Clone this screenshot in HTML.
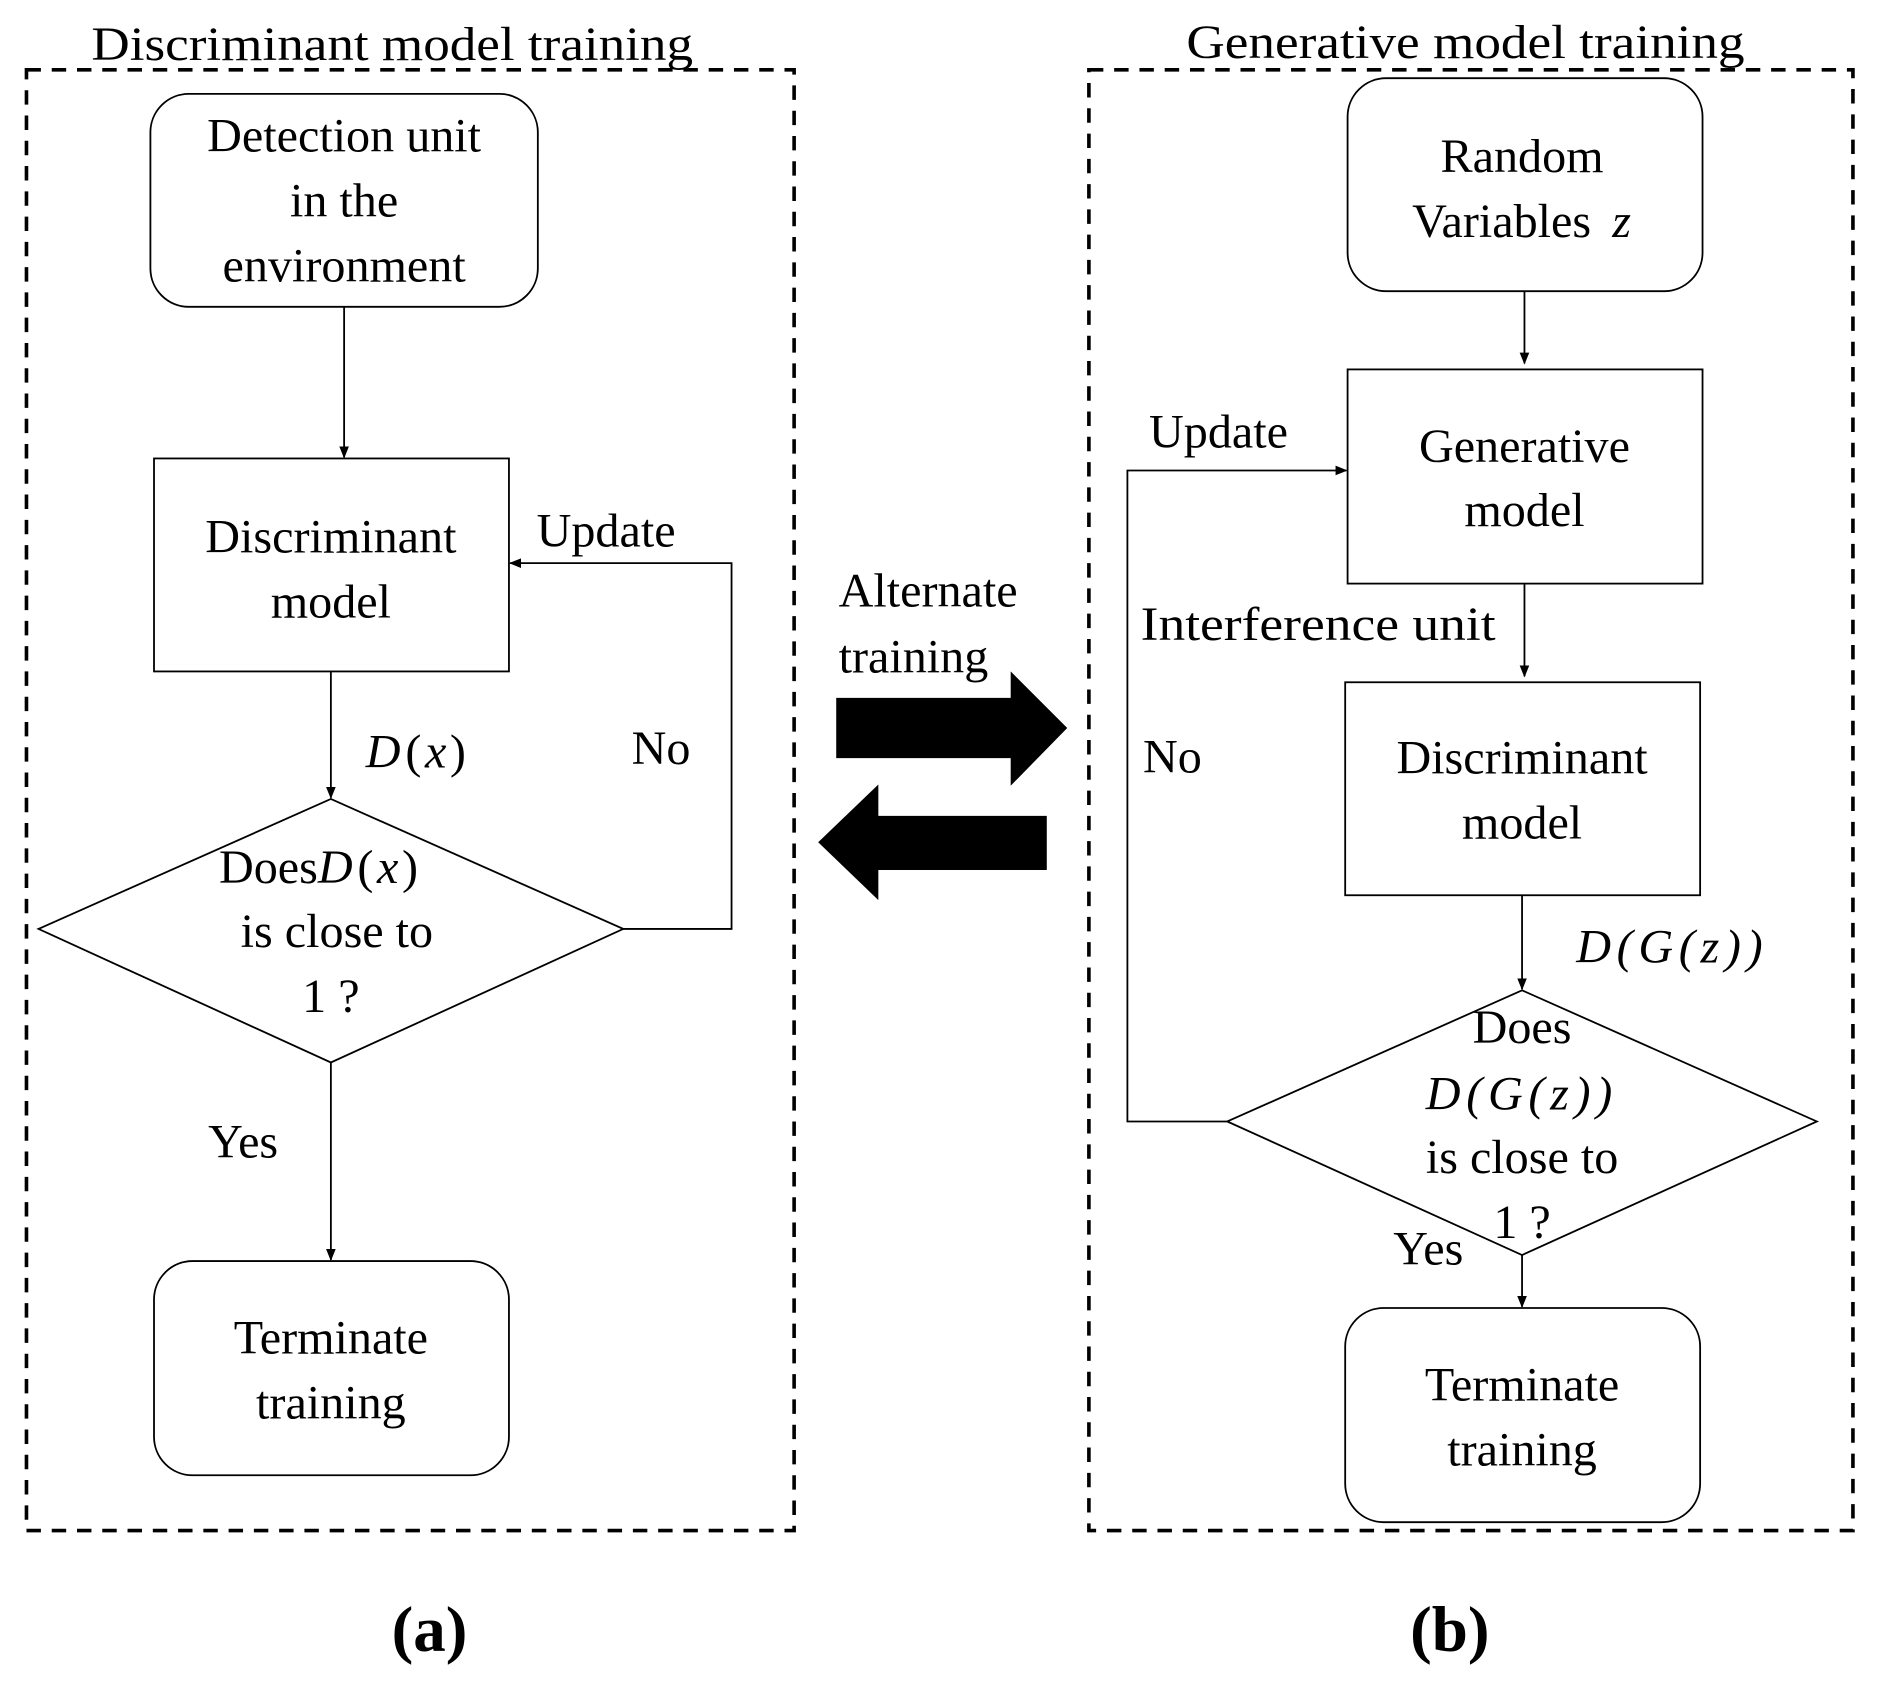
<!DOCTYPE html>
<html><head><meta charset="utf-8"><style>
html,body{margin:0;padding:0;background:#fff}
svg{display:block}
text{font-family:"Liberation Serif",serif;font-size:40px;fill:#000}
.c{text-anchor:middle}
.i{font-style:italic}
</style></head><body>
<svg width="1877" height="1681" viewBox="0 0 1560 1397" preserveAspectRatio="none" xmlns="http://www.w3.org/2000/svg">
<defs><marker id="a" markerWidth="10" markerHeight="10" refX="9" refY="5" orient="auto" markerUnits="userSpaceOnUse"><path d="M0,1 L10,5 L0,9 z" fill="#000"/></marker></defs>
<g fill="none" stroke="#000" stroke-width="3" stroke-dasharray="12,9">
<rect x="22" y="58" width="638" height="1214"/>
<rect x="905" y="58" width="635" height="1214"/>
</g>
<text x="76" y="50" style="font-size:40px" textLength="500" lengthAdjust="spacingAndGlyphs">Discriminant model training</text>
<text x="986" y="48" style="font-size:40px" textLength="464" lengthAdjust="spacingAndGlyphs">Generative model training</text>
<g fill="none" stroke="#000" stroke-width="1.5">
<rect x="125" y="78" width="322" height="177" rx="32"/>
<rect x="128" y="381" width="295" height="177"/>
<polygon points="32,772 275,664 518,772 275,883"/>
<rect x="128" y="1048" width="295" height="178" rx="32"/>
<line x1="286" y1="255" x2="286" y2="380" marker-end="url(#a)"/>
<line x1="275" y1="558" x2="275" y2="663" marker-end="url(#a)"/>
<polyline points="518,772 608,772 608,468 424,468" marker-end="url(#a)"/>
<line x1="275" y1="883" x2="275" y2="1047" marker-end="url(#a)"/>
<rect x="1120" y="65" width="295" height="177" rx="32"/>
<rect x="1120" y="307" width="295" height="178"/>
<rect x="1118" y="567" width="295" height="177"/>
<polygon points="1020,932 1265,823 1510,932 1265,1043"/>
<rect x="1118" y="1087" width="295" height="178" rx="32"/>
<line x1="1267" y1="242" x2="1267" y2="302" marker-end="url(#a)"/>
<line x1="1267" y1="485" x2="1267" y2="562" marker-end="url(#a)"/>
<line x1="1265" y1="744" x2="1265" y2="822" marker-end="url(#a)"/>
<polyline points="1020,932 937,932 937,391 1119,391" marker-end="url(#a)"/>
<line x1="1265" y1="1043" x2="1265" y2="1086" marker-end="url(#a)"/>
</g>
<polygon points="695,580 840,580 840,558 887,605 840,653 840,630 695,630" fill="#000"/>
<polygon points="870,678 730,678 730,652 680,700 730,748 730,723 870,723" fill="#000"/>
<text class="c" x="286" y="126">Detection unit</text>
<text class="c" x="286" y="180">in the</text>
<text class="c" x="286" y="234">environment</text>
<text class="c" x="275" y="459">Discriminant</text>
<text class="c" x="275" y="513">model</text>
<text x="304" y="638"><tspan class="i">D</tspan><tspan dx="4">(</tspan><tspan class="i" dx="3">x</tspan><tspan dx="3">)</tspan></text>
<text x="182" y="734">Does<tspan class="i">D</tspan><tspan dx="4">(</tspan><tspan class="i" dx="3">x</tspan><tspan dx="3">)</tspan></text>
<text class="c" x="280" y="787">is close to</text>
<text class="c" x="275" y="841">1 ?</text>
<text x="446" y="454">Update</text>
<text x="525" y="635">No</text>
<text x="173" y="962">Yes</text>
<text class="c" x="275" y="1125">Terminate</text>
<text class="c" x="275" y="1179">training</text>
<text x="697" y="504">Alternate</text>
<text x="697" y="559">training</text>
<text class="c" x="1265" y="143">Random</text>
<text class="c" x="1248" y="197">Variables</text><text x="1340" y="197" class="i">z</text>
<text class="c" x="1267" y="384">Generative</text>
<text class="c" x="1267" y="437">model</text>
<text x="948" y="532" textLength="295" lengthAdjust="spacingAndGlyphs">Interference unit</text>
<text class="c" x="1265" y="643">Discriminant</text>
<text class="c" x="1265" y="697">model</text>
<text x="1310" y="800" class="i" textLength="155" lengthAdjust="spacing">D(G(z))</text>
<text x="955" y="372">Update</text>
<text x="950" y="642">No</text>
<text class="c" x="1265" y="867">Does</text>
<text x="1185" y="922" class="i" textLength="155" lengthAdjust="spacing">D(G(z))</text>
<text class="c" x="1265" y="975">is close to</text>
<text class="c" x="1265" y="1029">1 ?</text>
<text x="1158" y="1051">Yes</text>
<text class="c" x="1265" y="1164">Terminate</text>
<text class="c" x="1265" y="1218">training</text>
<text class="c" x="357" y="1372" style="font-size:54px;font-weight:bold">(a)</text>
<text class="c" x="1205" y="1372" style="font-size:54px;font-weight:bold">(b)</text>
</svg>
</body></html>
